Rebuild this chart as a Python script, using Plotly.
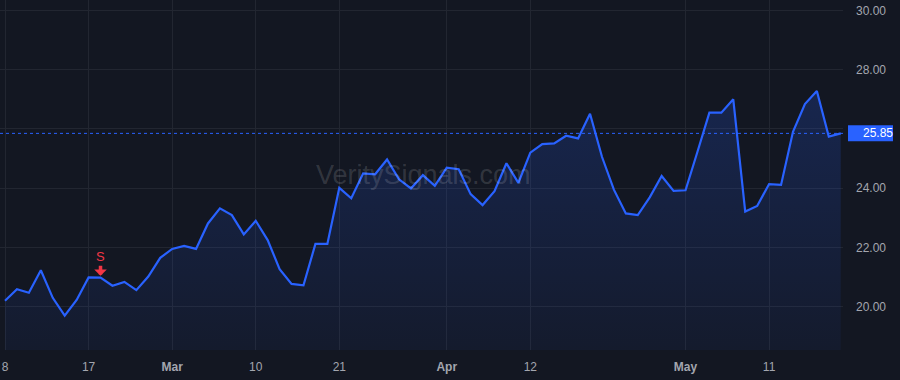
import plotly.graph_objects as go

# ---- data -------------------------------------------------------------
dates = [
    "2022-02-08", "2022-02-09", "2022-02-10", "2022-02-11", "2022-02-14", "2022-02-15",
    "2022-02-16", "2022-02-17", "2022-02-18", "2022-02-22", "2022-02-23", "2022-02-24",
    "2022-02-25", "2022-02-28",
    "2022-03-01", "2022-03-02", "2022-03-03", "2022-03-04", "2022-03-07", "2022-03-08",
    "2022-03-09", "2022-03-10", "2022-03-11", "2022-03-14", "2022-03-15", "2022-03-16",
    "2022-03-17", "2022-03-18", "2022-03-21", "2022-03-22", "2022-03-23", "2022-03-24",
    "2022-03-25", "2022-03-28", "2022-03-29", "2022-03-30", "2022-03-31",
    "2022-04-01", "2022-04-04", "2022-04-05", "2022-04-06", "2022-04-07", "2022-04-08",
    "2022-04-11", "2022-04-12", "2022-04-13", "2022-04-14", "2022-04-18", "2022-04-19",
    "2022-04-20", "2022-04-21", "2022-04-22", "2022-04-25", "2022-04-26", "2022-04-27",
    "2022-04-28", "2022-04-29",
    "2022-05-02", "2022-05-03", "2022-05-04", "2022-05-05", "2022-05-06", "2022-05-09",
    "2022-05-10", "2022-05-11", "2022-05-12", "2022-05-13", "2022-05-16", "2022-05-17",
    "2022-05-18", "2022-05-19",
]

close = [
    20.20, 20.59, 20.47, 21.23, 20.30, 19.70, 20.23, 20.99, 20.98, 20.71, 20.84, 20.56,
    21.02, 21.65,
    21.95, 22.05, 21.95, 22.81, 23.32, 23.09, 22.44, 22.90, 22.25, 21.27, 20.77, 20.72,
    22.12, 22.12, 24.01, 23.66, 24.50, 24.47, 24.97, 24.30, 23.99, 24.44, 24.08,
    24.69, 24.64, 23.80, 23.43, 23.90, 24.84, 24.18, 25.20, 25.49, 25.51, 25.77, 25.68,
    26.51, 25.06, 23.95, 23.15, 23.09, 23.69, 24.41, 23.91,
    23.93, 25.23, 26.55, 26.55, 27.00, 23.21, 23.40, 24.14, 24.11, 25.90, 26.84, 27.28,
    25.74, 25.85,
]

tick_dates = ["2022-02-08", "2022-02-17", "2022-03-01", "2022-03-10", "2022-03-21",
              "2022-04-01", "2022-04-12", "2022-05-02", "2022-05-11"]
tick_labels = ["8", "17", "<b>Mar</b>", "10", "21", "<b>Apr</b>", "12", "<b>May</b>", "11"]

price_ticks = [20, 22, 24, 26, 28, 30]
price_labels = ["20.00", "22.00", "24.00", "", "28.00", "30.00"]

last_price = 25.85
last_label = "25.85"

signal_date = "2022-02-18"
signal_label = "S"

watermark = "VeritySignals.com"

# ---- styling ---------------------------------------------------------
BG = "#131722"
GRID = "#222631"
BLUE = "#2962FF"
RED = "#F23645"
TEXT = "#A3A6AF"
FONT = "Liberation Sans, Arial, sans-serif"

x = list(range(len(dates)))
tick_x = [dates.index(d) for d in tick_dates]
sig_i = dates.index(signal_date)

Y_MIN, Y_MAX = 18.54, 30.35

fig = go.Figure()
fig.add_trace(go.Scatter(
    x=x, y=close, mode="lines",
    line=dict(color=BLUE, width=2.2),
    fill="tozeroy",
    fillgradient=dict(
        type="vertical", start=Y_MIN, stop=27.3,
        colorscale=[[0, "rgba(41,98,255,0.05)"], [1, "rgba(41,98,255,0.20)"]],
    ),
    text=dates, hoverinfo="text+y",
    showlegend=False,
))

fig.update_layout(
    width=900, height=380,
    margin=dict(l=0, r=57, t=0, b=30),
    paper_bgcolor=BG, plot_bgcolor=BG,
    font=dict(family=FONT, size=12, color=TEXT),
    showlegend=False,
    xaxis=dict(
        range=[-0.42, 70.19],
        tickmode="array", tickvals=tick_x, ticktext=tick_labels,
        showgrid=True, gridcolor=GRID, gridwidth=1,
        zeroline=False, showline=False, ticks="",
        ticklabelstandoff=8,
        tickfont=dict(size=12, color=TEXT),
        fixedrange=True,
    ),
    yaxis=dict(
        range=[Y_MIN, Y_MAX], side="right",
        tickmode="array", tickvals=price_ticks, ticktext=price_labels,
        showgrid=True, gridcolor=GRID, gridwidth=1,
        zeroline=False, showline=False, ticks="",
        ticklabelstandoff=12,
        tickfont=dict(size=12, color=TEXT),
        fixedrange=True,
    ),
)

# last-price dotted line
fig.add_shape(type="line", xref="paper", x0=0, x1=1, yref="y", y0=last_price, y1=last_price,
              line=dict(color=BLUE, width=1, dash="dot"), layer="above")

# last-price label box on the axis
px_per_unit = 350 / (Y_MAX - Y_MIN)
fig.add_shape(type="rect", xref="paper", x0=1 + 5 / 843, x1=1 + 50 / 843,
              yref="y", y0=last_price - 8 / px_per_unit, y1=last_price + 8 / px_per_unit,
              fillcolor=BLUE, line=dict(width=0), layer="above")
fig.add_annotation(xref="paper", x=1, xanchor="left", xshift=18,
                   yref="y", y=last_price, yanchor="middle",
                   text=last_label, showarrow=False,
                   font=dict(color="#FFFFFF", size=12, family=FONT))

# watermark
fig.add_annotation(xref="paper", yref="paper", x=0.502, y=0.5,
                   text=watermark, showarrow=False,
                   font=dict(size=27, color="rgba(255,255,255,0.14)", family=FONT))

# signal marker
fig.add_annotation(x=sig_i, y=close[sig_i], xref="x", yref="y",
                   text=signal_label, showarrow=True,
                   ax=0, ay=-21, standoff=2,
                   arrowhead=1, arrowsize=0.6, arrowwidth=3.5, arrowcolor=RED,
                   font=dict(color=RED, size=13, family=FONT))

fig.write_html("out.html")
